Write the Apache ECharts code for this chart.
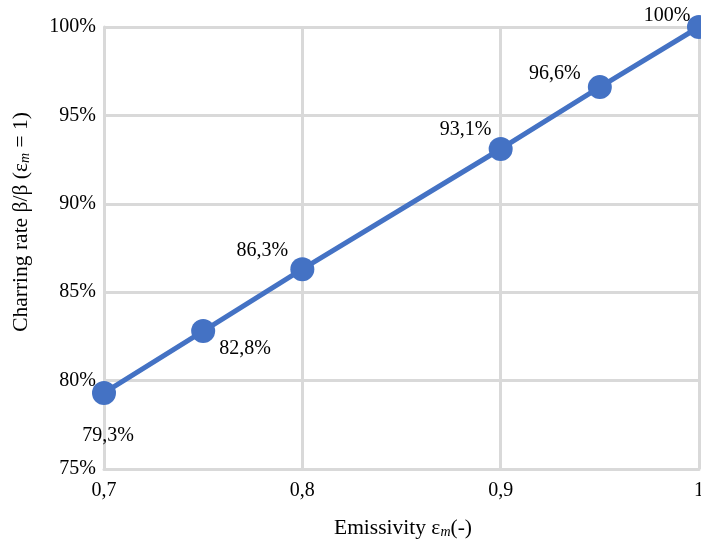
<!DOCTYPE html>
<html>
<head>
<meta charset="utf-8">
<script src="https://cdn.jsdelivr.net/npm/echarts@6/dist/echarts.min.js"></script>
<style>html,body{margin:0;padding:0;background:#fff}#c{width:701px;height:546px}</style>
</head>
<body>
<div id="c"></div>
<script>
var emissivity = [0.7, 0.75, 0.8, 0.9, 0.95, 1.0];
var charringRate = [79.3, 82.8, 86.3, 93.1, 96.6, 100];
var labelOffsets = [[4, 43], [42, 18], [-40, -18], [-35, -19], [-45, -13], [-32, -11]];

var FONT = '"Liberation Serif", "DejaVu Serif", serif';
var GRID = '#d9d9d9';
function fmtNum(v) { return String(v).replace('.', ','); }

var nameRich = {
  t: { fontFamily: FONT, fontSize: 21.5, color: '#000' },
  s: { fontFamily: FONT, fontSize: 14, fontStyle: 'italic', color: '#000', padding: [8, 0, 0, 0] }
};

var chart = echarts.init(document.getElementById('c'));
chart.setOption({
  animation: false,
  backgroundColor: '#fff',
  grid: { left: 104, right: 2, top: 27, bottom: 77, outerBoundsMode: 'none', containLabel: false },
  xAxis: {
    type: 'value', min: 0.7, max: 1, interval: 0.1,
    name: '{t|Emissivity ε}{s|m}{t|(-)}',
    nameLocation: 'middle', nameGap: 48,
    nameTextStyle: { rich: nameRich, padding: [0, 0, 0, 3] },
    axisLine: { show: true, lineStyle: { color: GRID, width: 3 } },
    axisTick: { show: false },
    splitLine: { show: true, lineStyle: { color: GRID, width: 3 } },
    axisLabel: { fontFamily: FONT, fontSize: 20, color: '#000', margin: 12,
      formatter: function (v) { return fmtNum(Math.round(v * 10) / 10); } }
  },
  yAxis: {
    type: 'value', min: 75, max: 100, interval: 5,
    name: '{t|Charring rate β/β (ε}{s|m}{t| = 1)}',
    nameLocation: 'middle', nameGap: 72,
    nameTextStyle: { rich: nameRich, padding: [0, 0, 0, 52] },
    axisLine: { show: true, lineStyle: { color: GRID, width: 3 } },
    axisTick: { show: false },
    splitLine: { show: true, lineStyle: { color: GRID, width: 3 } },
    axisLabel: { fontFamily: FONT, fontSize: 20, color: '#000', margin: 8,
      formatter: function (v) { return v + '%'; } }
  },
  series: [{
    type: 'line',
    data: emissivity.map(function (x, i) {
      return { value: [x, charringRate[i]], label: { offset: labelOffsets[i] } };
    }),
    clip: false,
    symbol: 'circle', symbolSize: 24,
    lineStyle: { color: '#4472C4', width: 5 },
    itemStyle: { color: '#4472C4' },
    label: { show: true, position: 'inside', fontFamily: FONT, fontSize: 20, color: '#000',
      formatter: function (p) { return fmtNum(p.value[1]) + '%'; } }
  }]
});
</script>
</body>
</html>
